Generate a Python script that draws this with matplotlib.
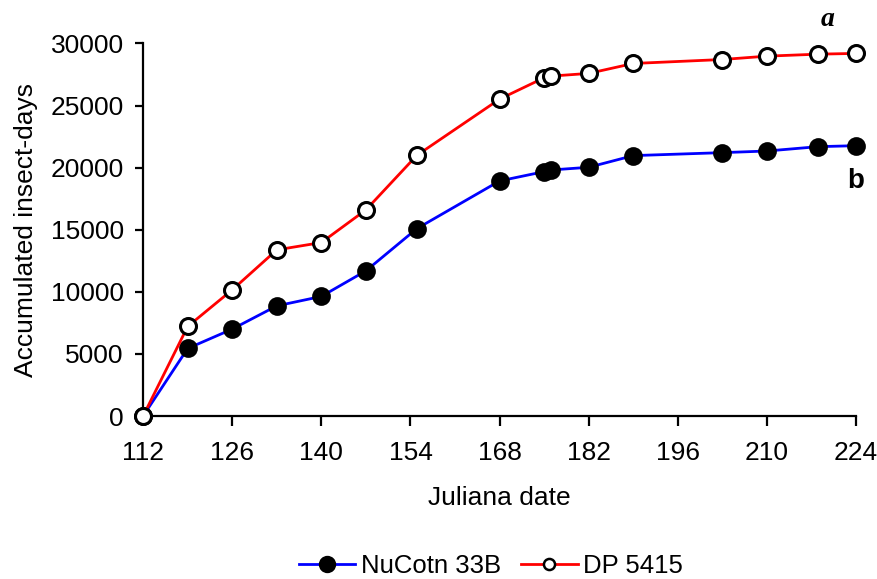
import matplotlib
matplotlib.use("Agg")
import matplotlib.pyplot as plt

plt.rcParams['font.family'] = ['Liberation Sans', 'DejaVu Sans']

# sampling dates (Julian day) and accumulated insect-days per cultivar
dates = [112, 119, 126, 133, 140, 147, 155, 168, 175, 176, 182, 189, 203, 210, 218, 224]
nucotn = [0, 5440, 7000, 8870, 9630, 11690, 15090, 18930, 19680, 19810, 20030,
          20970, 21210, 21340, 21690, 21770]
dp5415 = [0, 7210, 10160, 13380, 13970, 16600, 20990, 25520, 27240, 27370, 27590,
          28390, 28710, 28980, 29140, 29200]
xticks = [112, 126, 140, 154, 168, 182, 196, 210, 224]
yticks = [0, 5000, 10000, 15000, 20000, 25000, 30000]

fig = plt.figure(figsize=(8.78, 5.79), dpi=100)
ax = fig.add_axes([0.163, 0.2815, 0.812, 0.6434])

ax.plot(dates, nucotn, color='blue', lw=2, marker='o', ms=12,
        mfc='black', mec='black', mew=1.5, label='NuCotn 33B', clip_on=False, zorder=3)
ax.plot(dates, dp5415, color='red', lw=2, marker='o', ms=11.5,
        mfc='white', mec='black', mew=2.2, label='DP 5415', clip_on=False, zorder=4)

ax.set_xlim(112, 224)
ax.set_ylim(0, 30000)
ax.set_xticks(xticks)
ax.set_yticks(yticks)
for s in ['top', 'right']:
    ax.spines[s].set_visible(False)
for s in ['left', 'bottom']:
    ax.spines[s].set_linewidth(1.6)
ax.tick_params(axis='x', direction='out', length=7, width=1.6, pad=11, labelsize=19)
ax.tick_params(axis='y', direction='out', length=6, width=1.6, pad=8, labelsize=19)

ax.set_xlabel('Juliana date', fontsize=19, labelpad=15)
ax.set_ylabel('Accumulated insect-days', fontsize=19, labelpad=9)

ax.text(219.5, 31900, 'a', fontsize=20, fontweight='bold', fontstyle='italic',
        family='Liberation Serif', ha='center', va='center')
ax.text(224, 18900, 'b', fontsize=20, fontweight='bold',
        family='Liberation Sans', ha='center', va='center')

leg = fig.legend(loc='center', bbox_to_anchor=(0.559, 0.022), ncol=2, frameon=False,
                 fontsize=18.5, handlelength=2.2, handletextpad=0.2, columnspacing=0.8)
hs = leg.legend_handles
hs[0].set_markersize(11)
hs[1].set_markersize(8)
hs[1].set_markeredgewidth(1.8)

fig.savefig('out.png', dpi=100)
